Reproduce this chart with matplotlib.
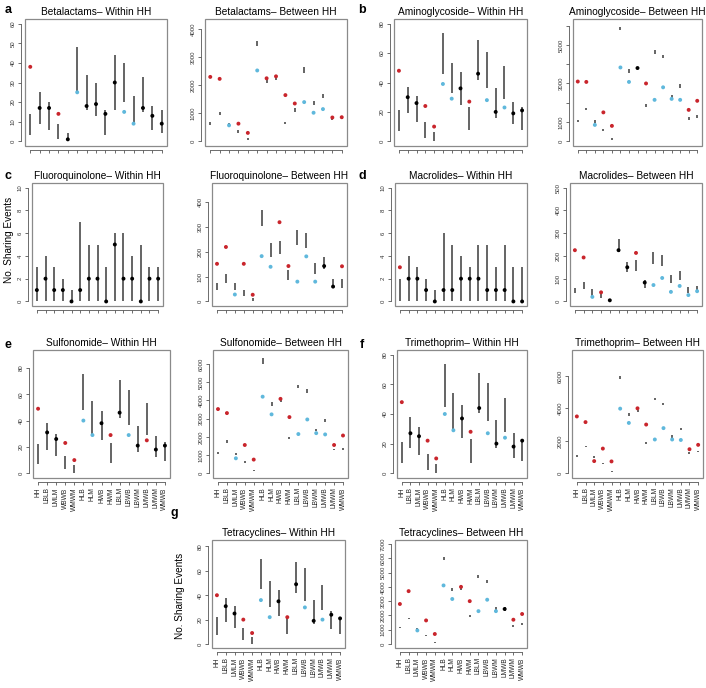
import matplotlib
matplotlib.use('Agg')
import matplotlib.pyplot as plt
from matplotlib.patches import Rectangle

plt.rcParams['font.family'] = ['Liberation Sans', 'DejaVu Sans']

categories = ["HH", "LBLB", "LMLM", "WBWB", "WMWM", "HLB", "HLM", "HWB", "HWM",
              "LBLM", "LBWB", "LBWM", "LMWB", "LMWM", "WMWB"]

# significance codes: U = above expected, D = below expected, N = within
# a  Betalactams
beta_w_obs = [38, 17, 17, 14, 1, 25, 18, 19, 14, 30, 15, 9, 17, 13, 9]
beta_w_lo = [3, 9, 6, 1, 0, 25, 16, 13, 3, 16, 20, 9, 15, 6, 4]
beta_w_hi = [14, 25, 20, 9, 4, 48, 34, 30, 16, 44, 40, 23, 33, 18, 16]
beta_w_sig = "UNNUNDNNNNDDNNN"
beta_b_obs = [2300, 2230, 570, 630, 300, 2530, 2250, 2320, 1650, 1350, 1400, 1020, 1150, 850, 860]
beta_b_lo = [580, 950, 500, 300, 50, 3400, 2100, 2200, 600, 1050, 2450, 1300, 1550, 750, 800]
beta_b_hi = [700, 1050, 650, 400, 100, 3600, 2250, 2350, 700, 1200, 2650, 1450, 1700, 850, 900]
beta_b_sig = "UUDUUDUUUUDDDUU"
# b  Aminoglycoside
amino_w_obs = [48, 30, 26, 24, 10, 39, 29, 36, 27, 46, 28, 20, 23, 19, 21]
amino_w_lo = [7, 19, 13, 2, 0, 46, 33, 25, 8, 42, 36, 16, 29, 12, 8]
amino_w_hi = [21, 37, 31, 13, 6, 74, 53, 47, 23, 69, 61, 36, 51, 27, 23]
amino_w_sig = "UNNUUDDNUNDNDNN"
amino_b_obs = [3100, 3080, 850, 1500, 800, 3830, 3080, 3800, 3000, 2150, 2800, 2200, 2150, 1630, 2100]
amino_b_lo = [1000, 1600, 950, 550, 80, 5750, 3550, 3750, 1800, 4550, 4300, 2200, 2750, 1100, 1200]
amino_b_hi = [1100, 1750, 1100, 650, 150, 5950, 3750, 3850, 1950, 4750, 4500, 2400, 2950, 1250, 1350]
amino_b_sig = "UUDUUDDNUDDDDUU"
# c  Fluoroquinolone
fluoro_w_obs = [1, 2, 1, 1, 0, 1, 2, 2, 0, 5, 2, 2, 0, 2, 2]
fluoro_w_lo = [0, 0, 0, 0, 0, 0, 0, 0, 0, 0, 0, 0, 0, 0, 0]
fluoro_w_hi = [3, 4, 3, 2, 1, 7, 5, 5, 3, 6, 6, 4, 5, 3, 3]
fluoro_w_sig = "NNNNNNNNNNNNNNN"
fluoro_b_obs = [152, 220, 28, 152, 27, 183, 140, 320, 143, 80, 182, 80, 143, 60, 142]
fluoro_b_lo = [45, 75, 45, 20, 0, 305, 180, 190, 85, 230, 215, 110, 130, 55, 55]
fluoro_b_hi = [75, 110, 75, 45, 15, 370, 235, 245, 125, 290, 275, 155, 180, 90, 92]
fluoro_b_sig = "UUDUUDDUUDDDNNU"
# d  Macrolides
macro_w_obs = [3, 2, 2, 1, 0, 1, 1, 2, 2, 2, 1, 1, 1, 0, 0]
macro_w_lo = [0, 0, 0, 0, 0, 0, 0, 0, 0, 0, 0, 0, 0, 0, 0]
macro_w_hi = [2, 4, 3, 2, 1, 6, 5, 4, 3, 5, 5, 3, 5, 3, 3]
macro_w_sig = "UNNNNNNNNNNNNNN"
macro_b_obs = [225, 193, 20, 40, 5, 225, 150, 213, 83, 72, 103, 42, 68, 28, 45]
macro_b_lo = [35, 55, 25, 15, 3, 215, 130, 135, 60, 165, 155, 80, 95, 35, 45]
macro_b_hi = [60, 85, 55, 40, 8, 275, 175, 180, 95, 215, 205, 115, 135, 65, 70]
macro_b_sig = "UUDUNNNUNDDDDDD"
# e  Sulfonomide
sulfo_w_obs = [49, 31, 26, 23, 10, 40, 29, 38, 29, 46, 29, 21, 25, 18, 21]
sulfo_w_lo = [7, 18, 13, 3, 0, 48, 29, 25, 8, 42, 37, 16, 29, 12, 9]
sulfo_w_hi = [22, 38, 30, 13, 6, 75, 55, 47, 23, 71, 63, 36, 53, 28, 24]
sulfo_w_sig = "UNNUUDDNUNDNUNN"
sulfo_b_obs = [3520, 3300, 820, 1550, 750, 4200, 3230, 4080, 3080, 2150, 2950, 2200, 2130, 1550, 2070]
sulfo_b_lo = [1050, 1650, 1000, 550, 100, 6000, 3700, 3900, 1900, 4700, 4400, 2300, 2800, 1250, 1300]
sulfo_b_hi = [1150, 1800, 1100, 650, 160, 6300, 3900, 4000, 2000, 4850, 4600, 2450, 2950, 1350, 1400]
sulfo_b_sig = "UUDUUDDUUDDDDUU"
# f  Trimethoprim
trim_w_obs = [48, 27, 25, 22, 10, 40, 29, 37, 28, 44, 27, 20, 24, 18, 22]
trim_w_lo = [7, 17, 12, 2, 0, 45, 30, 24, 7, 41, 35, 17, 28, 10, 8]
trim_w_hi = [21, 38, 31, 13, 6, 74, 54, 46, 23, 68, 61, 36, 51, 27, 23]
trim_w_sig = "UNNUUDDNUNDNDNN"
trim_b_obs = [3500, 3150, 750, 1520, 730, 3980, 3100, 4000, 3000, 2080, 2780, 2080, 2050, 1480, 1750]
trim_b_lo = [1000, 1600, 950, 550, 100, 5800, 3550, 3750, 1800, 4500, 4200, 2200, 2650, 1200, 1300]
trim_b_hi = [1100, 1700, 1050, 650, 130, 6000, 3700, 3900, 1900, 4650, 4350, 2350, 2800, 1300, 1400]
trim_b_sig = "UUUUUDDUUDDDDUU"
# g  Tetracyclines
tetra_w_obs = [40, 31, 25, 20, 9, 36, 22, 35, 22, 49, 30, 19, 20, 24, 21]
tetra_w_lo = [7, 18, 13, 3, 0, 45, 30, 23, 8, 42, 35, 16, 28, 12, 8]
tetra_w_hi = [22, 38, 31, 13, 6, 70, 52, 44, 23, 67, 62, 36, 48, 27, 22]
tetra_w_sig = "UNNUUDDNUNDNDNN"
tetra_b_obs = [2800, 3700, 950, 1650, 700, 4100, 3150, 4000, 3000, 2300, 3100, 2300, 2450, 1700, 2100]
tetra_b_lo = [1100, 1750, 1050, 550, 100, 5900, 3700, 3800, 1900, 4600, 4300, 2400, 2300, 1200, 1300]
tetra_b_hi = [1200, 1850, 1150, 650, 150, 6100, 3900, 3950, 2000, 4800, 4500, 2600, 2600, 1350, 1450]
tetra_b_sig = "UUDUUDDUUDDDNUU"

W, H = 706, 688
fig = plt.figure(figsize=(W / 100, H / 100), dpi=100)
fig.patch.set_facecolor('white')

COL = {'U': '#c9252c', 'D': '#5fb8dc', 'N': '#000000'}
BOX = '#8a8a8a'


def px_rect(x0, y0, x1, y1):
    return [x0 / W, 1 - y1 / H, (x1 - x0) / W, (y1 - y0) / H]


def panel(px, title, obs, lo, hi, sig, ylim, yticks, ylabels, xlabels=False):
    ax = fig.add_axes(px_rect(*px))
    xs = list(range(1, len(categories) + 1))
    ax.vlines(xs, lo, hi, color='#4a4a4a', lw=1.2, zorder=2)
    ax.scatter(xs, obs, c=[COL[s] for s in sig], s=8, zorder=3, linewidths=0)
    r = ylim[1] - ylim[0]
    ax.set_ylim(ylim[0] - 0.04 * r, ylim[1] + 0.04 * r)
    ax.set_xlim(1 - 0.56, len(xs) + 0.56)
    for s in ['top', 'right']:
        ax.spines[s].set_visible(False)
    for s in ['left', 'bottom']:
        ax.spines[s].set_position(('outward', 3))
        ax.spines[s].set_color('#555555')
        ax.spines[s].set_linewidth(0.6)
    ax.spines['left'].set_bounds(yticks[0], yticks[-1])
    ax.spines['bottom'].set_bounds(1, len(xs))
    ax.add_patch(Rectangle((0, 0), 1, 1, transform=ax.transAxes, fill=False,
                           edgecolor=BOX, lw=0.9, clip_on=False, zorder=5))
    ax.set_yticks(yticks)
    ax.set_yticklabels(ylabels, rotation=90, va='center', fontsize=4.3, color='#333333')
    ax.set_xticks(xs)
    if xlabels:
        ax.set_xticklabels(categories, rotation=90, fontsize=4.8, color='#222222')
    else:
        ax.set_xticklabels([])
    ax.tick_params(length=2.2, width=0.6, color='#555555', pad=1.5)
    ax.set_title(title, fontsize=7.3, pad=3)
    return ax


def lab(vals):
    return [str(v) for v in vals]


t10 = [0, 10, 20, 30, 40, 50, 60]
t20 = [0, 20, 40, 60, 80]
t2 = [0, 2, 4, 6, 8, 10]

# Row 1
panel((25, 19, 167, 146), "Betalactams– Within HH", beta_w_obs, beta_w_lo, beta_w_hi, beta_w_sig,
      (0, 60), t10, lab(t10))
panel((205, 19, 347, 146), "Betalactams– Between HH", beta_b_obs, beta_b_lo, beta_b_hi, beta_b_sig,
      (0, 4200), [0, 1000, 2000, 3000, 4000], lab([0, 1000, 2000, 3000, 4000]))
panel((394, 19, 527, 146), "Aminoglycoside– Within HH", amino_w_obs, amino_w_lo, amino_w_hi, amino_w_sig,
      (0, 80), t20, lab(t20))
panel((573, 19, 702, 146), "Aminoglycoside– Between HH", amino_b_obs, amino_b_lo, amino_b_hi, amino_b_sig,
      (0, 6100), [0, 1000, 2000, 3000, 4000, 5000, 6000], ['0', '1000', '', '3000', '', '5000', ''])
# Row 2
panel((32, 183, 163, 306), "Fluoroquinolone– Within HH", fluoro_w_obs, fluoro_w_lo, fluoro_w_hi, fluoro_w_sig,
      (0, 10), t2, lab(t2))
panel((212, 183, 347, 306), "Fluoroquinolone– Between HH", fluoro_b_obs, fluoro_b_lo, fluoro_b_hi, fluoro_b_sig,
      (0, 460), [0, 100, 200, 300, 400], lab([0, 100, 200, 300, 400]))
panel((395, 183, 527, 306), "Macrolides– Within HH", macro_w_obs, macro_w_lo, macro_w_hi, macro_w_sig,
      (0, 10), t2, lab(t2))
panel((570, 183, 702, 306), "Macrolides– Between HH", macro_b_obs, macro_b_lo, macro_b_hi, macro_b_sig,
      (0, 500), [0, 100, 200, 300, 400, 500], lab([0, 100, 200, 300, 400, 500]))
# Row 3
panel((33, 350, 170, 478), "Sulfonomide– Within HH", sulfo_w_obs, sulfo_w_lo, sulfo_w_hi, sulfo_w_sig,
      (0, 90), t20, lab(t20), xlabels=True)
panel((213, 350, 348, 478), "Sulfonomide– Between HH", sulfo_b_obs, sulfo_b_lo, sulfo_b_hi, sulfo_b_sig,
      (0, 6500), [0, 1000, 2000, 3000, 4000, 5000, 6000], lab([0, 1000, 2000, 3000, 4000, 5000, 6000]),
      xlabels=True)
panel((397, 350, 527, 478), "Trimethoprim– Within HH", trim_w_obs, trim_w_lo, trim_w_hi, trim_w_sig,
      (0, 80), t20, lab(t20), xlabels=True)
panel((572, 350, 703, 478), "Trimethoprim– Between HH", trim_b_obs, trim_b_lo, trim_b_hi, trim_b_sig,
      (0, 7300), [0, 2000, 4000, 6000], lab([0, 2000, 4000, 6000]), xlabels=True)
# Row 4
panel((212, 540, 345, 648), "Tetracyclines– Within HH", tetra_w_obs, tetra_w_lo, tetra_w_hi, tetra_w_sig,
      (0, 82), t20, lab(t20), xlabels=True)
panel((395, 540, 527, 648), "Tetracyclines– Between HH", tetra_b_obs, tetra_b_lo, tetra_b_hi, tetra_b_sig,
      (0, 7000), [0, 1000, 2000, 3000, 4000, 5000, 6000, 7000],
      lab([0, 1000, 2000, 3000, 4000, 5000, 6000, 7000]), xlabels=True)

# panel letters
for letter, (x, y) in {'a': (8, 10), 'b': (362, 10), 'c': (8, 176), 'd': (362, 176),
                       'e': (8, 345), 'f': (362, 345), 'g': (174, 513)}.items():
    fig.text(x / W, 1 - y / H, letter, fontsize=9, fontweight='bold', va='center', ha='center')

# y labels
fig.text(9 / W, 1 - 240 / H, "No. Sharing Events", rotation=90, fontsize=7.2, va='center', ha='center')
fig.text(180 / W, 1 - 596 / H, "No. Sharing Events", rotation=90, fontsize=7.2, va='center', ha='center')

fig.savefig('out.png', dpi=100)
